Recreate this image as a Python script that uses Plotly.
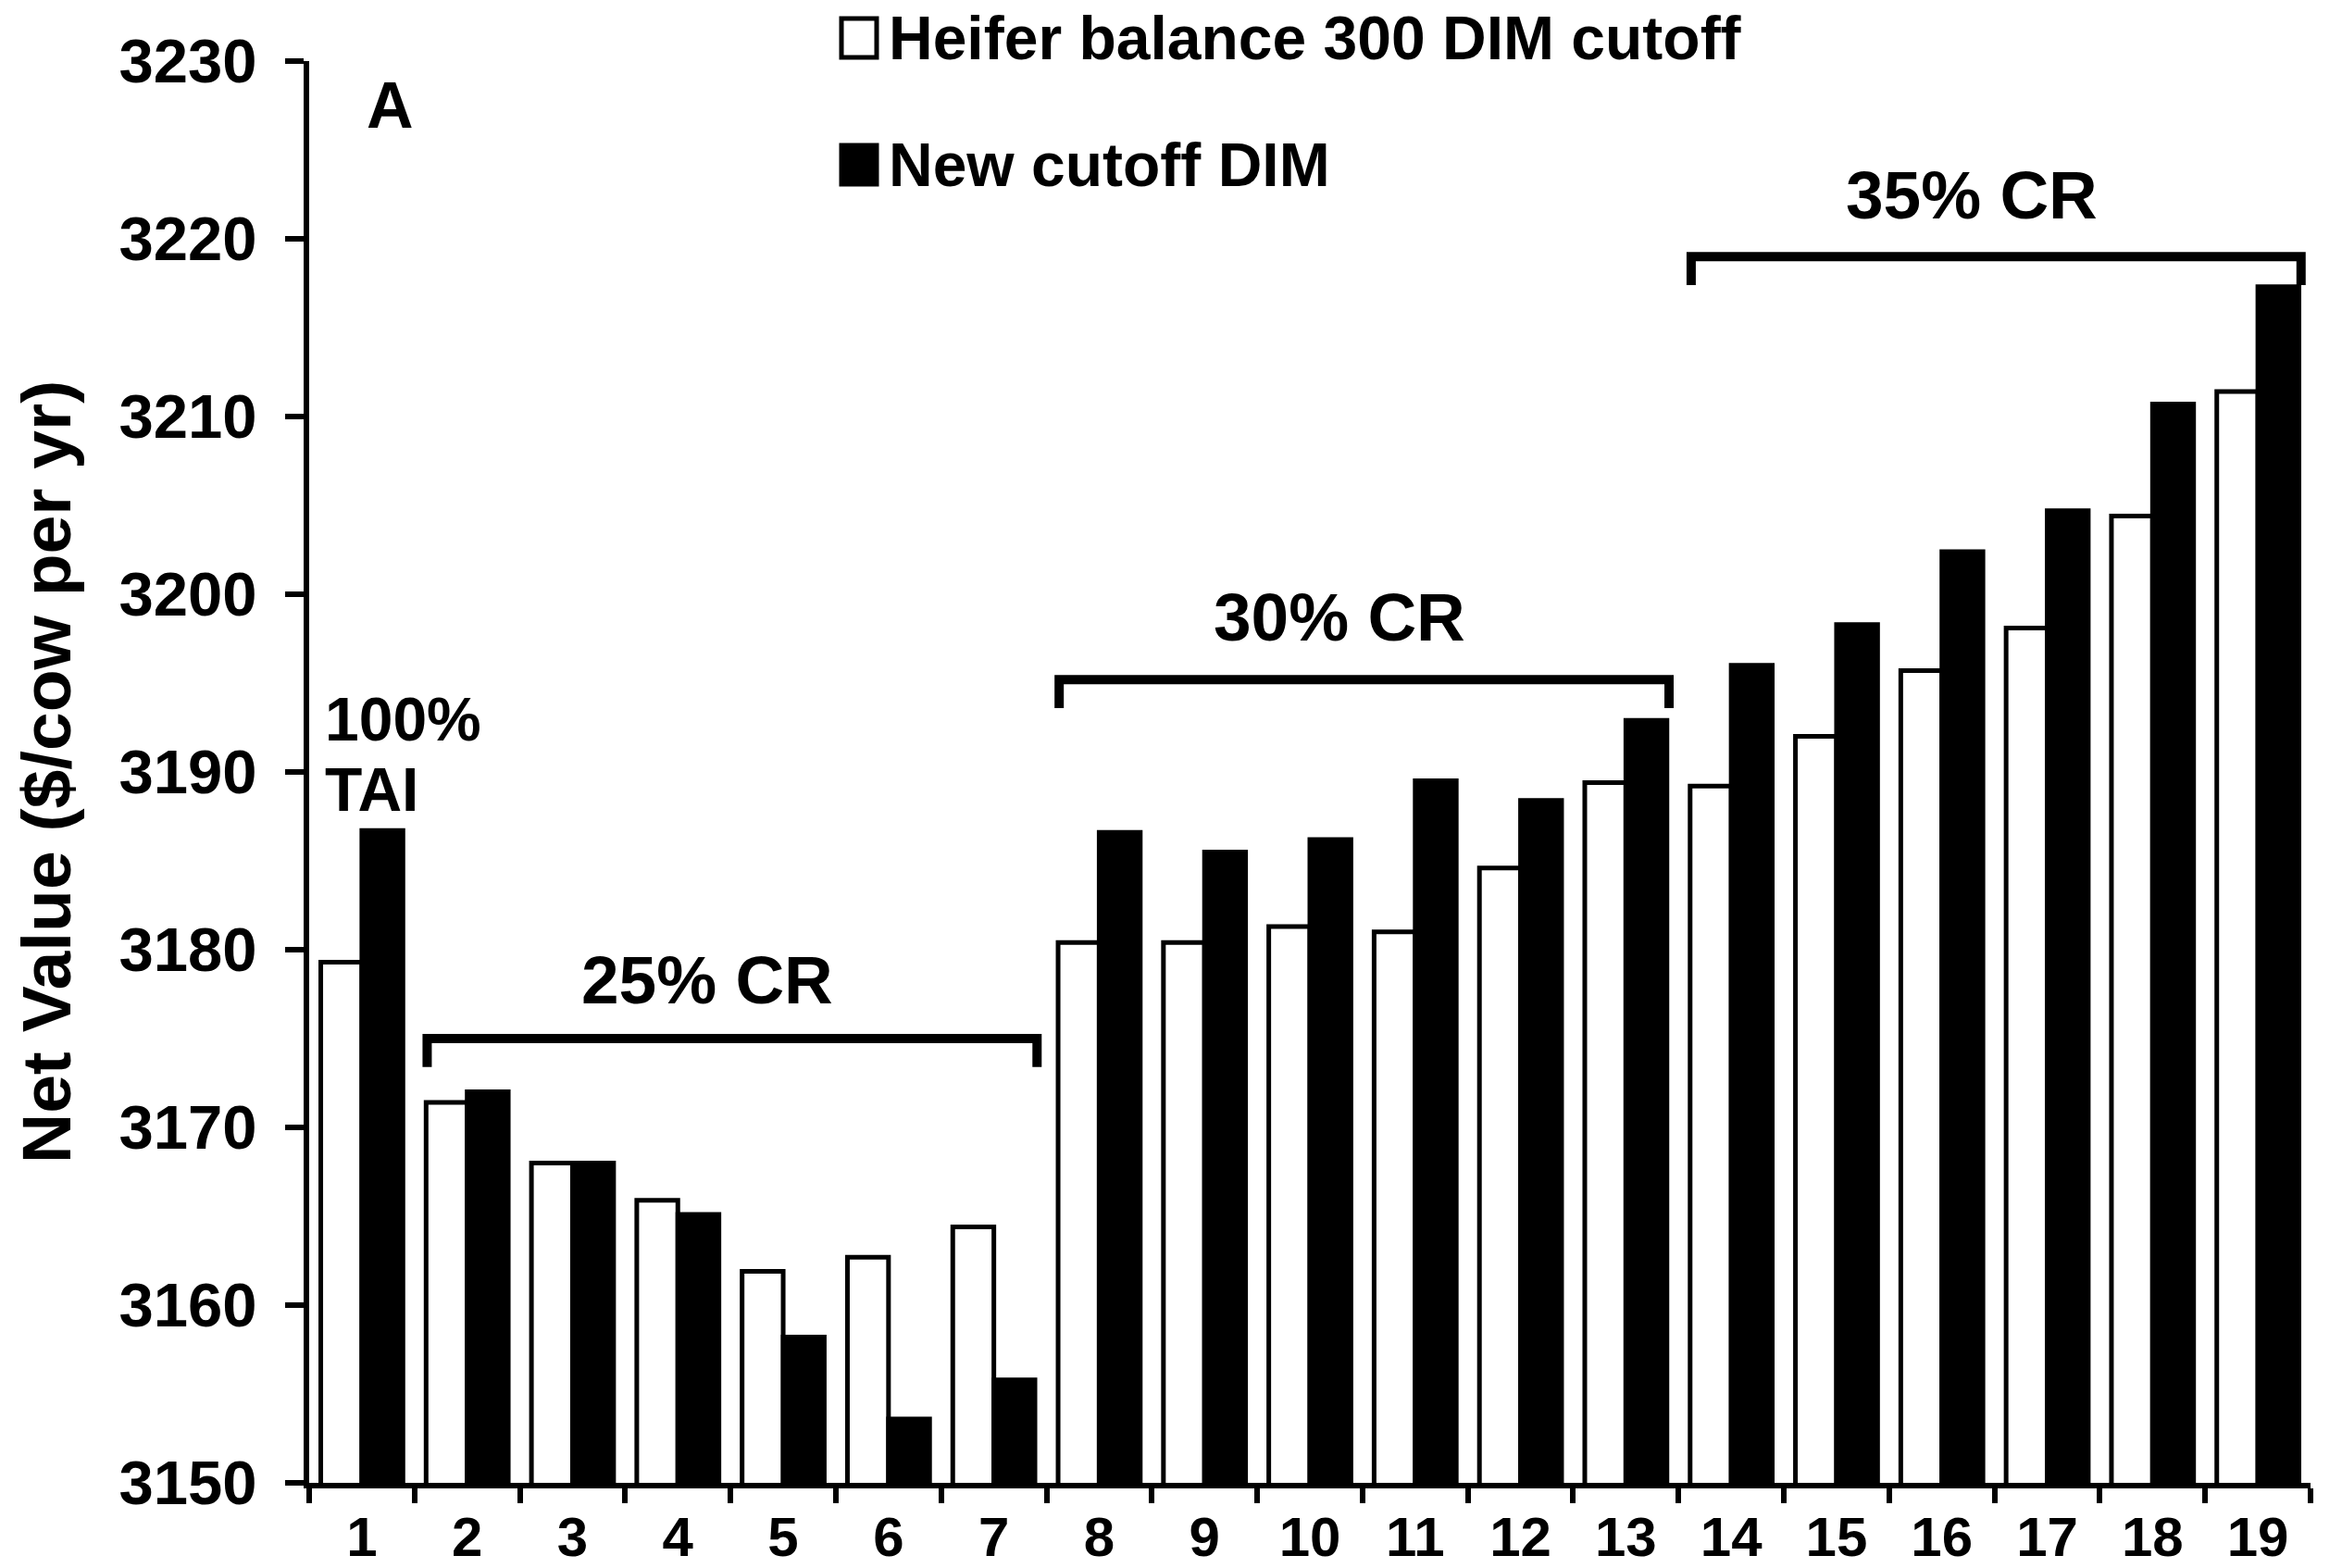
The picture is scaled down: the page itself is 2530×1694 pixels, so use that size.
import plotly.graph_objects as go

# ---------------- data ----------------
categories = list(range(1, 20))
heifer_300 = [3179.3, 3171.4, 3168.0, 3165.9, 3161.9, 3162.7, 3164.4,
              3180.4, 3180.4, 3181.3, 3181.0, 3184.6, 3189.4,
              3189.2, 3192.0, 3195.7, 3198.1, 3204.4, 3211.4]
new_cutoff = [3186.7, 3172.0, 3168.0, 3165.1, 3158.2, 3153.6, 3155.8,
              3186.6, 3185.5, 3186.2, 3189.5, 3188.4, 3192.9,
              3196.0, 3198.3, 3202.4, 3204.7, 3210.7, 3217.3]
y_ticks = [3150, 3160, 3170, 3180, 3190, 3200, 3210, 3220, 3230]
series_names = ["Heifer balance 300 DIM cutoff", "New cutoff DIM"]
group_labels = ["25% CR", "30% CR", "35% CR"]
group_first = [2, 8, 14]
group_last = [7, 13, 19]

# ---------------- layout helpers ----------------
W, H = 2530, 1694
L, R, T, B = 334, 34, 66, 92
PW, PH = W - L - R, H - T - B


def px(X):
    return (X - L) / PW


def py(Y):
    return (H - B - Y) / PH


FONT = "Arial, 'Liberation Sans', Helvetica, sans-serif"
bracket_y = [3175.0, 3195.2, 3219.0]
label_y = [3178.3, 3198.7, 3222.5]

fig = go.Figure()
fig.add_trace(go.Bar(x=categories, y=heifer_300, name=series_names[0],
                     marker=dict(color="white", line=dict(color="black", width=5)),
                     showlegend=False))
fig.add_trace(go.Bar(x=categories, y=new_cutoff, name=series_names[1],
                     marker=dict(color="black", line=dict(color="black", width=5)),
                     showlegend=False))

shapes = []
annotations = []
for lab, f, l, by, ly in zip(group_labels, group_first, group_last, bracket_y, label_y):
    x0, x1 = f - 0.38, l + 0.41
    yb = by - 1.6
    shapes.append(dict(type="path", xref="x", yref="y",
                       path=f"M {x0},{yb} L {x0},{by} L {x1},{by} L {x1},{yb}",
                       line=dict(color="black", width=10)))
    annotations.append(dict(x=(f + l) / 2 - 0.22, y=ly, xref="x", yref="y", text=lab,
                            showarrow=False, xanchor="center", yanchor="middle",
                            font=dict(family=FONT, size=73, color="black", weight="bold")))

# panel letter and 100% TAI label
annotations.append(dict(x=px(421), y=py(114), xref="paper", yref="paper", text="A",
                        showarrow=False, xanchor="center", yanchor="middle",
                        font=dict(family=FONT, size=70, color="black", weight="bold")))
annotations.append(dict(x=px(349), y=py(777), xref="paper", yref="paper", text="100%",
                        showarrow=False, xanchor="left", yanchor="middle",
                        font=dict(family=FONT, size=66, color="black", weight="bold")))
annotations.append(dict(x=px(349), y=py(853), xref="paper", yref="paper", text="TAI",
                        showarrow=False, xanchor="left", yanchor="middle",
                        font=dict(family=FONT, size=66, color="black", weight="bold")))

# y-axis title
annotations.append(dict(x=px(50), y=py(834), xref="paper", yref="paper",
                        text="Net Value ($/cow per yr)", textangle=-90,
                        showarrow=False, xanchor="center", yanchor="middle",
                        font=dict(family=FONT, size=75, color="black", weight="bold")))

# legend (manual)
leg_rows = [(20, 62, "white"), (157, 199, "black")]
for (ytop, ybot, col), name in zip(leg_rows, series_names):
    shapes.append(dict(type="rect", xref="paper", yref="paper",
                       x0=px(909), x1=px(947), y0=py(ybot), y1=py(ytop),
                       fillcolor=col, line=dict(color="black", width=5)))
    annotations.append(dict(x=px(958), y=py((ytop + ybot) / 2), xref="paper", yref="paper",
                            text=name, showarrow=False, xanchor="left", yanchor="middle",
                            font=dict(family=FONT, size=66, color="black", weight="bold")))

fig.update_layout(
    width=W, height=H,
    margin=dict(l=L, r=R, t=T, b=B, autoexpand=False),
    paper_bgcolor="white", plot_bgcolor="white",
    barmode="group", bargap=0.22, bargroupgap=0,
    shapes=shapes, annotations=annotations,
    showlegend=False,
    xaxis=dict(range=[0.5, 19.5], tickmode="array", tickvals=categories,
               ticktext=[str(c) for c in categories], ticks="",
               showline=True, linewidth=6, linecolor="black",
               showgrid=False, zeroline=False, automargin=False,
               ticklabelstandoff=1,
               tickfont=dict(family=FONT, size=60, color="black", weight="bold"),
               minor=dict(tickmode="array", tickvals=[c - 0.5 for c in categories] + [19.5],
                          ticks="outside", ticklen=16, tickwidth=6, tickcolor="black",
                          showgrid=False)),
    yaxis=dict(range=[3150, 3230], tickmode="array", tickvals=y_ticks,
               ticks="outside", ticklen=20, tickwidth=6, tickcolor="black",
               showline=True, linewidth=6, linecolor="black",
               showgrid=False, zeroline=False, automargin=False,
               ticklabelstandoff=17,
               tickfont=dict(family=FONT, size=67, color="black", weight="bold")),
)

fig.write_html("out.html")
